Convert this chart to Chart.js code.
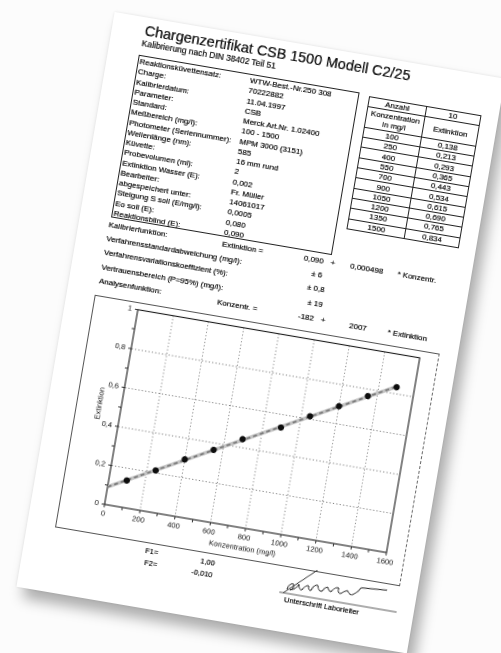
<!DOCTYPE html>
<html><head><meta charset="utf-8">
<script src="https://cdn.jsdelivr.net/npm/chart.js@4.4.1/dist/chart.umd.min.js"></script>
<style>
html,body{margin:0;padding:0;background:#fcfcfc;width:501px;height:653px;overflow:hidden;font-family:"Liberation Sans",Arial,sans-serif;color:#111;}
#sheet{position:absolute;left:66.5px;top:40px;width:385px;height:582px;transform:rotate(9.7deg);transform-origin:50% 50%;filter:blur(0.3px);}
#paper{position:absolute;left:-4px;top:1px;width:396px;height:583px;background:#fff;box-shadow:8px 10px 13px rgba(0,0,0,0.32),0 0 3px rgba(0,0,0,0.10);}
.t,#info div,#tbl td{text-shadow:0 0 0.5px rgba(0,0,0,0.7);}
.t{position:absolute;white-space:nowrap;line-height:1.2;font-size:8px;}
#info{position:absolute;left:27px;top:39px;width:224px;height:165px;border:1px solid #222;box-sizing:border-box;}
#info .l{position:absolute;left:1px;white-space:nowrap;font-size:8px;line-height:9.6px;}
#info .v{position:absolute;left:113px;white-space:nowrap;font-size:8px;line-height:9.6px;}
#tbl{position:absolute;left:261px;top:41px;width:113px;border-collapse:collapse;table-layout:fixed;font-size:8px;}
#tbl td{border:1px solid #222;padding:0;text-align:center;height:9.3px;line-height:9px;overflow:hidden;}
#frame{position:absolute;left:24px;top:283px;width:350px;height:236px;border:1px solid #555;border-right:1px dashed #666;box-sizing:border-box;}
#cv{position:absolute;left:24px;top:283px;}
</style></head>
<body>
<div id="sheet">
  <div id="paper"></div>
  <div class="t" style="left:29px;top:6px;font-size:14.5px;">Chargenzertifikat CSB 1500 Modell C2/25</div>
  <div class="t" style="left:28px;top:22px;font-size:8.5px;">Kalibrierung nach DIN 38402 Teil 51</div>

  <div id="info"></div>

  <table id="tbl"><colgroup><col style="width:58px"><col style="width:55px"></colgroup><tbody id="tbody"></tbody></table>

  <div class="t" style="left:26px;top:207px;">Kalibrierfunktion:</div>
  <div class="t" style="left:141px;top:207px;">Extinktion =</div>
  <div class="t" style="left:224px;top:207px;">0,090</div>
  <div class="t" style="left:251px;top:207px;">+</div>
  <div class="t" style="left:271px;top:207px;">0,000498</div>
  <div class="t" style="left:319px;top:207px;">* Konzentr.</div>

  <div class="t" style="left:26px;top:221px;">Verfahrensstandardabweichung (mg/l):</div>
  <div class="t" style="left:234px;top:221px;">± 6</div>
  <div class="t" style="left:26px;top:235px;">Verfahrensvariationskoeffizient (%):</div>
  <div class="t" style="left:232px;top:235px;">± 0,8</div>
  <div class="t" style="left:26px;top:250px;">Vertrauensbereich (P=95%) (mg/l):</div>
  <div class="t" style="left:235px;top:250px;">± 19</div>
  <div class="t" style="left:26px;top:264px;">Analysenfunktion:</div>
  <div class="t" style="left:146px;top:265px;">Konzentr. =</div>
  <div class="t" style="left:228px;top:265px;">-182</div>
  <div class="t" style="left:251px;top:265px;">+</div>
  <div class="t" style="left:280px;top:266px;">2007</div>
  <div class="t" style="left:319px;top:266px;">* Extinktion</div>

  <div id="frame"></div>
  <canvas id="cv" width="350" height="236"></canvas>

  <div class="t" style="left:117px;top:522px;font-size:7.5px;">F1=</div>
  <div class="t" style="left:118px;top:534px;font-size:7.5px;">F2=</div>
  <div class="t" style="left:173px;top:523px;font-size:7.5px;">1,00</div>
  <div class="t" style="left:166px;top:535px;font-size:7.5px;">-0,010</div>

  <svg style="position:absolute;left:255px;top:505px;" width="125" height="45" viewBox="0 0 125 45">
    <path d="M35,12 L5,40" stroke="#222" stroke-width="1" fill="none"/>
    <path d="M8,36 q2,-8 6,-6 q1,5 -3,6 q6,-1 8,-7 q1,6 4,5 q3,-6 6,-5 q0,5 3,4 q2,-7 6,-6 q1,6 5,5 q2,-5 5,-5 q1,4 4,4 q3,-6 7,-5 q-1,6 3,5 q3,-3 6,-4 q3,5 6,3 q4,-2 7,-8 L107,20" stroke="#222" stroke-width="1" fill="none"/>
    <path d="M1,40 L120,40" stroke="#333" stroke-width="0.8"/>
  </svg>
  <div class="t" style="left:262px;top:546.5px;font-size:7.5px;">Unterschrift Laborleiter</div>
</div>

<script>
// ----- data -----
const konzentration = [100, 250, 400, 550, 700, 900, 1050, 1200, 1350, 1500];
const extinktion = [0.138, 0.213, 0.293, 0.365, 0.443, 0.534, 0.615, 0.690, 0.765, 0.834];
const fitX = [0, 1500];
const fitY = [0.090, 0.837];
const xTickLabels = ['0', '200', '400', '600', '800', '1000', '1200', '1400', '1600'];
const yTickLabels = ['0', '0,2', '0,4', '0,6', '0,8', '1'];

const infoLabels = ['Reaktionsküvettensatz:', 'Charge:', 'Kalibrierdatum:', 'Parameter:', 'Standard:', 'Meßbereich (mg/l):', 'Photometer (Seriennummer):', 'Wellenlänge (nm):', 'Küvette:', 'Probevolumen (ml):', 'Extinktion Wasser (E):', 'Bearbeiter:', 'abgespeichert unter:', 'Steigung S soll (E/mg/l):', 'Eo soll (E):', 'Reaktionsblind (E):'];
const infoValues = ['WTW-Best.-Nr.250 308', '70222882', '11.04.1997', 'CSB', 'Merck Art.Nr. 1.02400', '100 - 1500', 'MPM 3000 (3151)', '585', '16 mm rund', '2', '0,002', 'Fr. Müller', '14061017', '0,0005', '0,080', '0,090'];

// info box
const info = document.getElementById('info');
infoLabels.forEach((lab, i) => {
  const top = 1 + i * 10.25;
  const a = document.createElement('div'); a.className = 'l'; a.style.top = top + 'px'; a.textContent = lab; info.appendChild(a);
  const b = document.createElement('div'); b.className = 'v'; b.style.top = top + 'px'; b.textContent = infoValues[i]; info.appendChild(b);
});

// table
const tb = document.getElementById('tbody');
const fmt = v => v.toFixed(3).replace('.', ',');
let html = '<tr><td>Anzahl</td><td>' + konzentration.length + '</td></tr>';
html += '<tr><td style="height:19.6px">Konzentration<br>in mg/l</td><td style="height:19.6px">Extinktion</td></tr>';
konzentration.forEach((k, i) => { html += '<tr><td>' + k + '</td><td>' + fmt(extinktion[i]) + '</td></tr>'; });
tb.innerHTML = html;

// chart
const FONT = '"Liberation Sans", Arial, sans-serif';
const framePlugin = {
  id: 'frame',
  beforeDatasetsDraw(chart) {
    const a = chart.chartArea, c = chart.ctx;
    c.save(); c.strokeStyle = '#1a1a1a'; c.lineWidth = 1.1;
    c.strokeRect(a.left, a.top, a.right - a.left, a.bottom - a.top);
    c.restore();
  }
};
const fitPoints = fitX.map((x, i) => ({ x: x, y: fitY[i] }));
new Chart(document.getElementById('cv'), {
  type: 'scatter',
  data: {
    datasets: [
      { label: 'Messwerte', data: konzentration.map((x, i) => ({ x: x, y: extinktion[i] })),
        backgroundColor: '#0d0d0d', borderColor: '#0d0d0d', pointRadius: 2.7, pointHoverRadius: 2.7, showLine: false },
      { label: 'Kalibrierfunktion', data: fitPoints,
        showLine: true, borderColor: '#7a7a7a', borderWidth: 1.8, borderDash: [4, 3], pointRadius: 0 },
      { label: 'Kalibrierfunktion (Band)', data: fitPoints,
        showLine: true, borderColor: '#c4c4c4', borderWidth: 3.6, pointRadius: 0 }
    ]
  },
  options: {
    responsive: false, animation: false, devicePixelRatio: 2,
    layout: { padding: { left: 19, right: 19, top: 5, bottom: 0 } },
    plugins: { legend: { display: false }, tooltip: { enabled: false } },
    scales: {
      x: {
        type: 'linear', min: 0, max: 1600,
        afterFit: s => { s.height = 31; },
        ticks: { stepSize: 100, autoSkip: false, maxRotation: 0, padding: 2, color: '#111',
          font: { size: 7.5, family: FONT },
          callback: v => (v % 200 === 0 ? xTickLabels[v / 200] : '') },
        grid: { color: c => (c.tick && c.tick.value % 200 === 0 ? '#808080' : 'rgba(0,0,0,0)'),
          lineWidth: 0.9, tickColor: '#222', tickLength: 3, drawTicks: true },
        border: { display: true, color: '#222', width: 1, dash: [1.2, 2.2] },
        title: { display: true, text: 'Konzentration (mg/l)', color: '#111', padding: { top: 0, bottom: 6 },
          font: { size: 7.5, family: FONT } }
      },
      y: {
        min: 0, max: 1,
        afterFit: s => { s.width = 26; },
        ticks: { stepSize: 0.1, autoSkip: false, padding: 3, color: '#111', font: { size: 7.5, family: FONT },
          callback: v => { const k = Math.round(v * 10); return k % 2 === 0 ? yTickLabels[k / 2] : ''; } },
        grid: { color: c => (c.tick && Math.round(c.tick.value * 10) % 2 === 0 ? '#808080' : 'rgba(0,0,0,0)'),
          lineWidth: 0.9, tickColor: '#222', tickLength: 3 },
        border: { display: true, color: '#222', width: 1, dash: [1.2, 2.2] },
        title: { display: true, text: 'Extinktion', color: '#111', padding: 0, font: { size: 7.5, family: FONT } }
      }
    }
  },
  plugins: [framePlugin]
});
</script>
</body></html>
